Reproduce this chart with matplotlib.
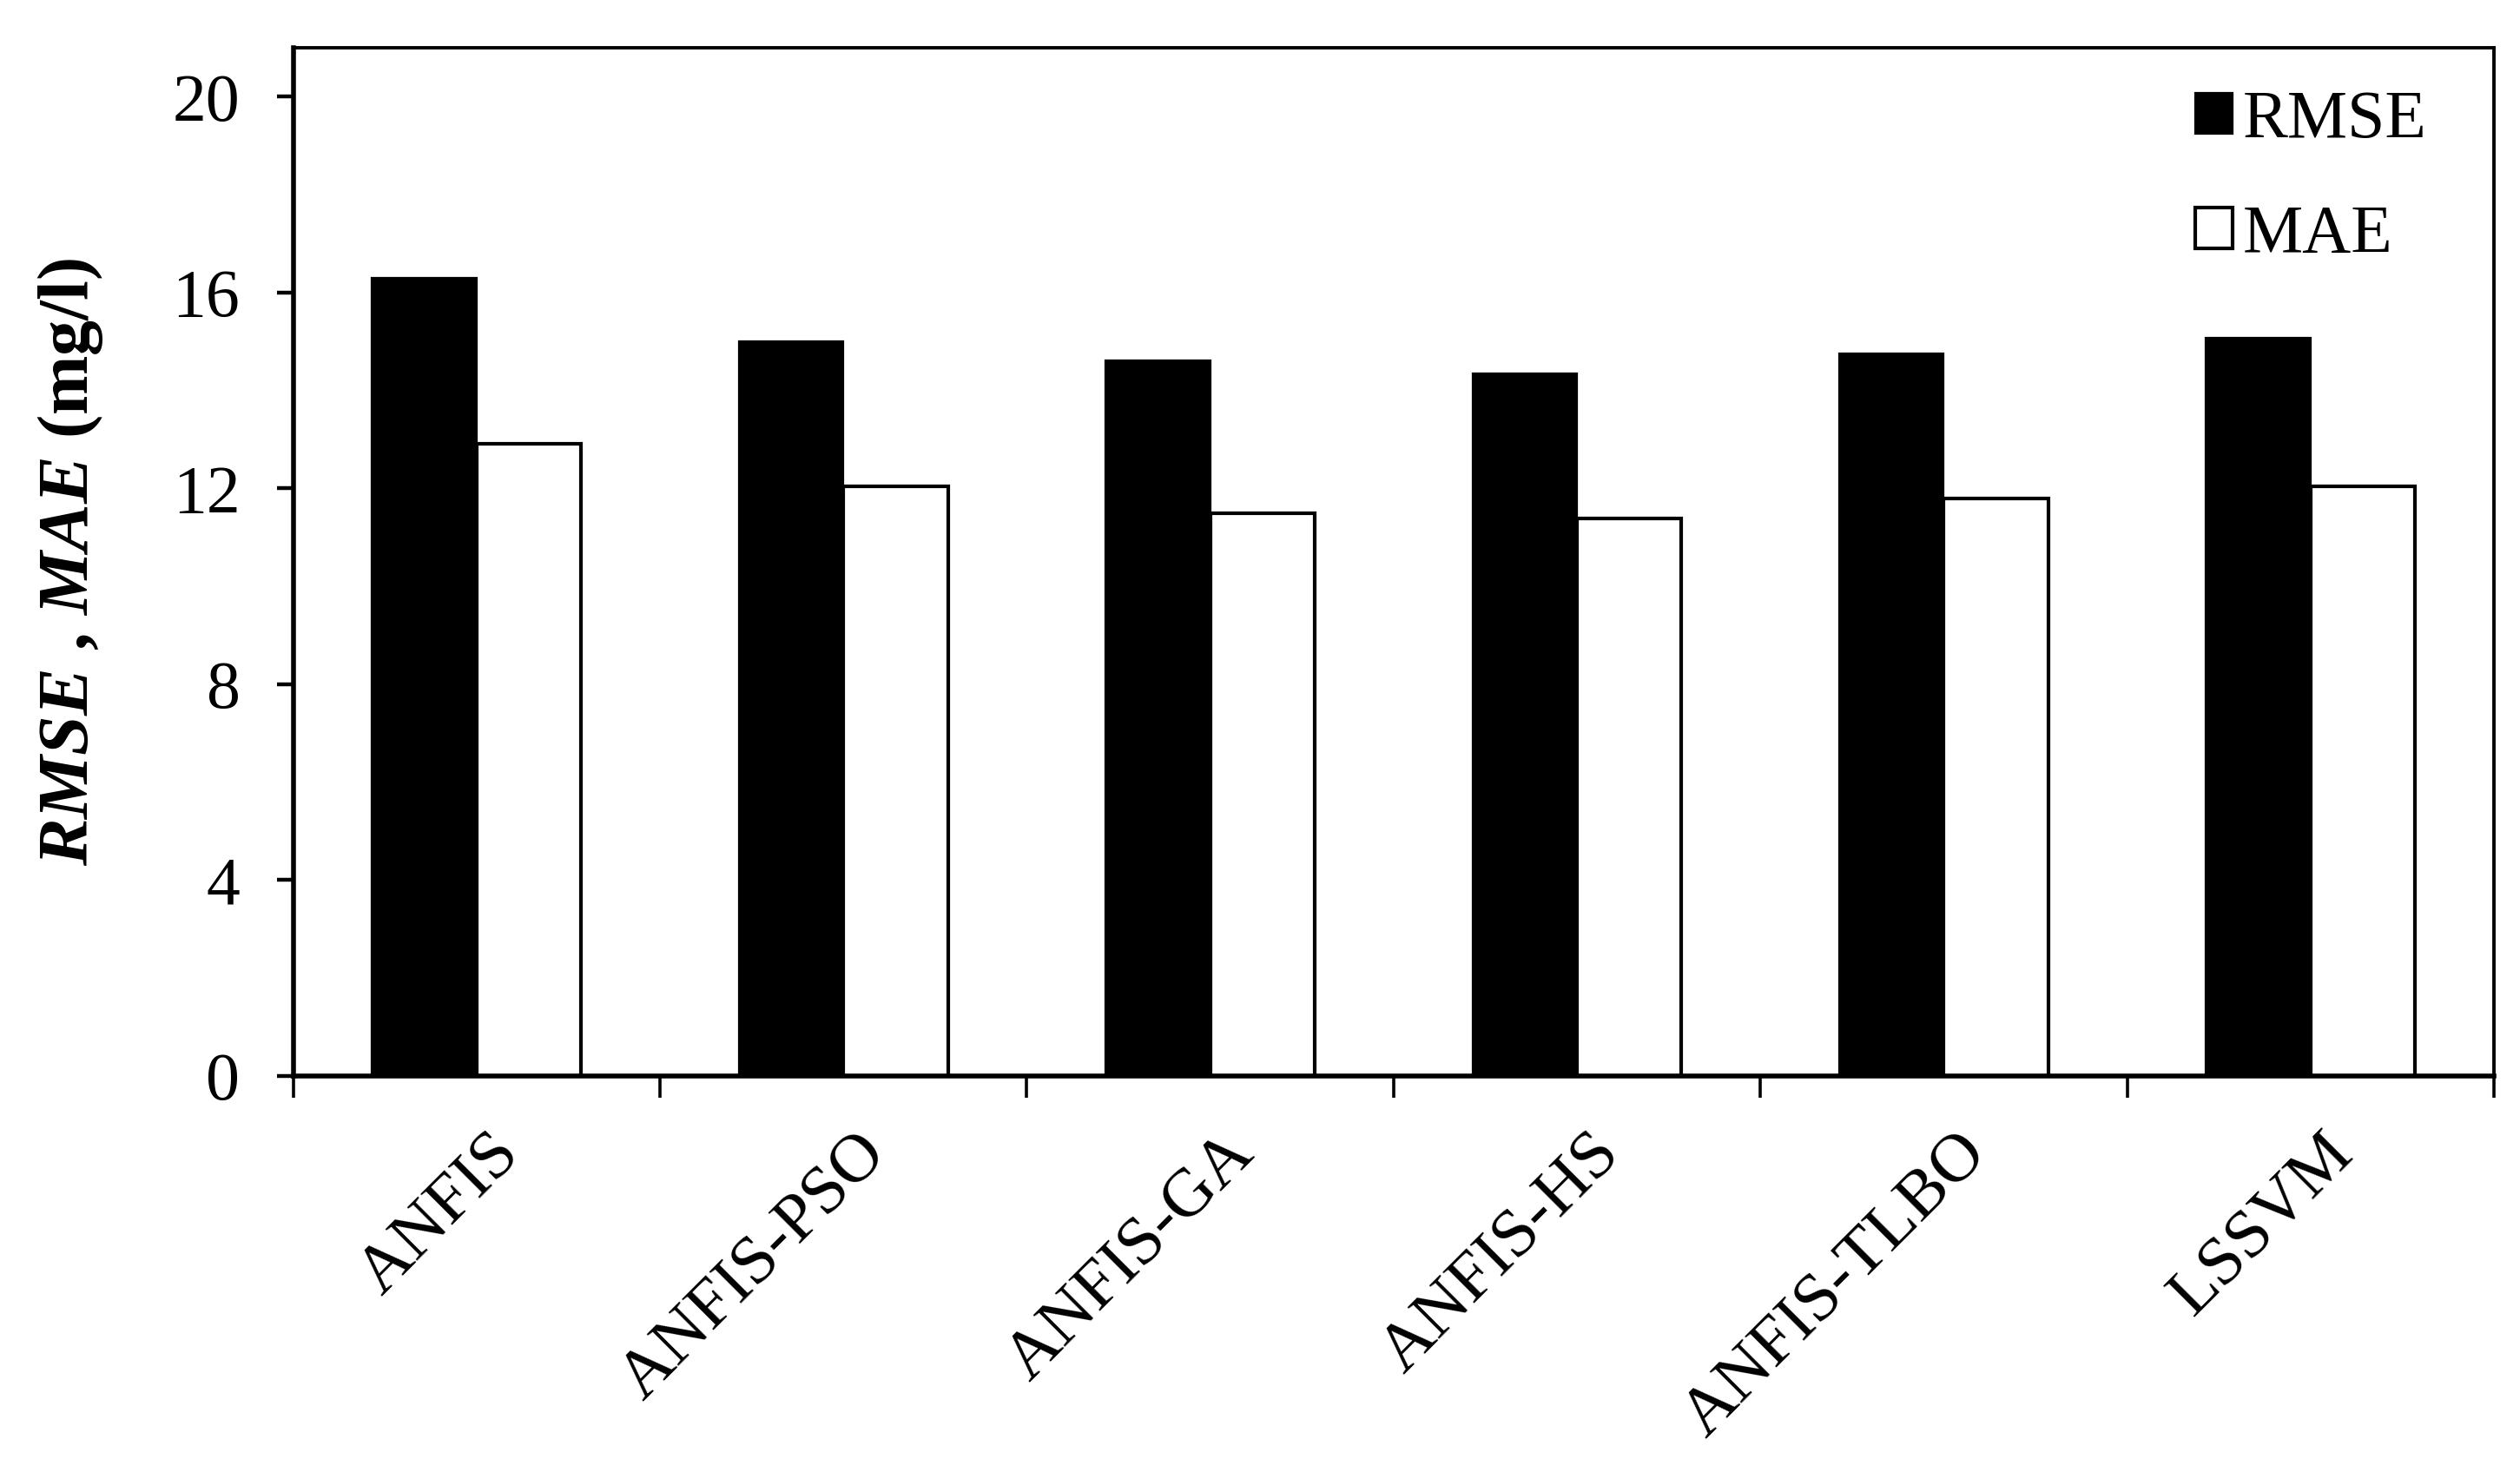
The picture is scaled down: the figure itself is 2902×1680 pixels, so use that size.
import matplotlib
matplotlib.use('Agg')
import matplotlib.pyplot as plt
import matplotlib.transforms as mtransforms
import numpy as np

plt.rcParams['font.family'] = ['Liberation Serif', 'DejaVu Serif']
plt.rcParams['mathtext.fontset'] = 'custom'
plt.rcParams['mathtext.it'] = 'Liberation Serif:italic:bold'
plt.rcParams['mathtext.rm'] = 'Liberation Serif:bold'
plt.rcParams['mathtext.bf'] = 'Liberation Serif:bold'

# data
models = ['ANFIS', 'ANFIS-PSO', 'ANFIS-GA', 'ANFIS-HS', 'ANFIS-TLBO', 'LSSVM']
rmse = [16.30, 15.01, 14.61, 14.35, 14.75, 15.08]
mae = [12.92, 12.04, 11.49, 11.38, 11.80, 12.05]
yticks = [0, 4, 8, 12, 16, 20]

fig = plt.figure(figsize=(14.51, 8.40), dpi=200)
ax = fig.add_axes([0.1163, 0.2625, 0.8734, 0.7048])

x = np.arange(len(models))
w = 0.285
ax.bar(x - w / 2, rmse, w, color='black', edgecolor='black', linewidth=0.8, label='RMSE')
ax.bar(x + w / 2, mae, w, color='white', edgecolor='black', linewidth=1.5, label='MAE')

ax.set_xlim(-0.5, len(models) - 0.5)
ax.set_ylim(0, 21)
ax.set_yticks(yticks)
ax.set_yticklabels([str(v) for v in yticks], fontsize=28)
ax.tick_params(axis='y', direction='out', length=7, width=1.6, pad=15)

# category boundaries get the ticks, labels sit at centres
ax.set_xticks(np.arange(len(models) + 1) - 0.5)
ax.set_xticklabels([])
ax.tick_params(axis='x', which='major', direction='out', length=9, width=1.3)
ax.set_xticks(x, minor=True)
ax.set_xticklabels(models, minor=True, fontsize=28.5, rotation=45,
                   ha='right', va='top', rotation_mode='anchor')
ax.tick_params(axis='x', which='minor', length=0, pad=19)
offset = mtransforms.ScaledTranslation(0.065, 0, fig.dpi_scale_trans)
for lab in ax.get_xticklabels(minor=True):
    lab.set_transform(lab.get_transform() + offset)

for side in ['left', 'bottom']:
    ax.spines[side].set_linewidth(2.0)
for side in ['top', 'right']:
    ax.spines[side].set_linewidth(1.4)

ax.set_ylabel(r'$RMSE$ , $MAE$ (mg/l)', fontsize=29.5, fontweight='bold', labelpad=28)

ax.legend(loc='upper right', bbox_to_anchor=(0.997, 1.018), frameon=False, fontsize=28,
          handlelength=0.55, handleheight=0.55, handletextpad=0.15, labelspacing=0.78)

fig.savefig('out.png', dpi=200, facecolor='white')
